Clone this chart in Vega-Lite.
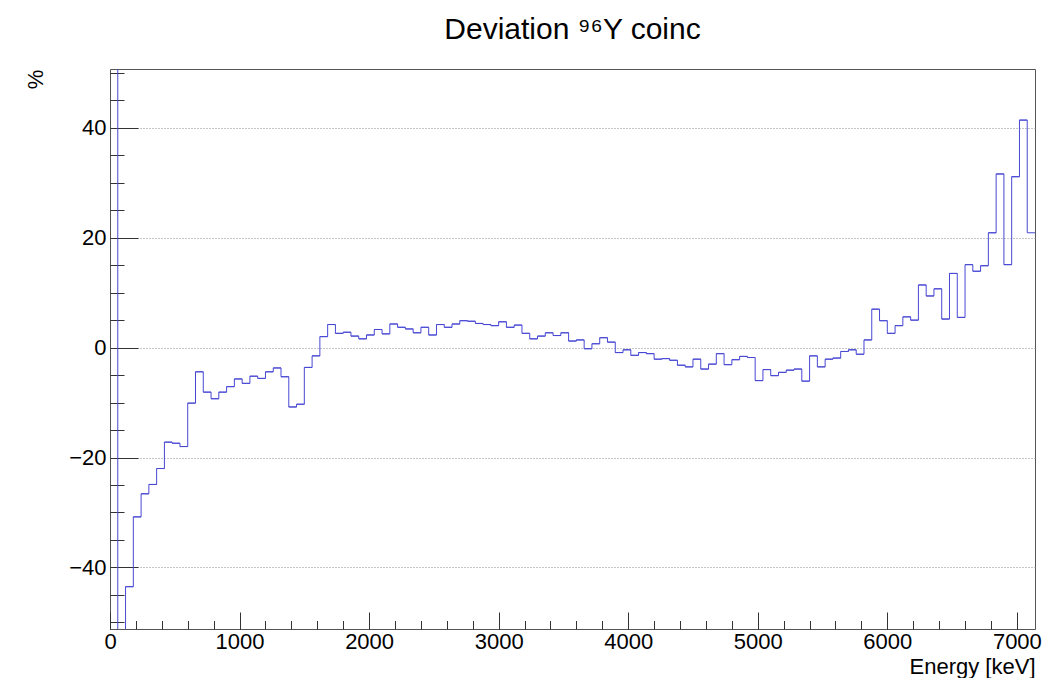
{
  "$schema": "https://vega.github.io/schema/vega-lite/v6.json",
  "width": 925,
  "height": 560,
  "autosize": "none",
  "padding": {"left": 110, "top": 69, "right": 26, "bottom": 49},
  "background": "white",
  "title": {
    "text": "Deviation ⁹⁶Y coinc",
    "font": "Liberation Sans",
    "fontSize": 30,
    "fontWeight": "normal",
    "color": "black",
    "anchor": "middle",
    "frame": "group",
    "baseline": "alphabetic",
    "offset": 0
  },
  "config": {
    "view": {"stroke": "#555555", "strokeWidth": 1},
    "axis": {
      "labelFont": "Liberation Sans",
      "titleFont": "Liberation Sans",
      "labelColor": "black",
      "titleColor": "black",
      "titleFontWeight": "normal",
      "tickColor": "#333333",
      "tickWidth": 1,
      "domain": false
    }
  },
  "resolve": {"axis": {"x": "independent", "y": "independent"}},
  "data": {
    "values": [
      {"lo": 0, "hi": 60, "dev": 60},
      {"lo": 60, "hi": 120, "dev": -60},
      {"lo": 120, "hi": 180, "dev": -43.5},
      {"lo": 180, "hi": 240, "dev": -30.8},
      {"lo": 240, "hi": 300, "dev": -26.6},
      {"lo": 300, "hi": 360, "dev": -24.9},
      {"lo": 360, "hi": 420, "dev": -22.0},
      {"lo": 420, "hi": 480, "dev": -17.2},
      {"lo": 480, "hi": 540, "dev": -17.4},
      {"lo": 540, "hi": 600, "dev": -18.0},
      {"lo": 600, "hi": 660, "dev": -10.1},
      {"lo": 660, "hi": 720, "dev": -4.4},
      {"lo": 720, "hi": 780, "dev": -8.1},
      {"lo": 780, "hi": 840, "dev": -9.3},
      {"lo": 840, "hi": 900, "dev": -8.1},
      {"lo": 900, "hi": 960, "dev": -7.1},
      {"lo": 960, "hi": 1020, "dev": -5.7},
      {"lo": 1020, "hi": 1080, "dev": -6.5},
      {"lo": 1080, "hi": 1140, "dev": -5.2},
      {"lo": 1140, "hi": 1200, "dev": -5.6},
      {"lo": 1200, "hi": 1260, "dev": -4.4},
      {"lo": 1260, "hi": 1320, "dev": -3.7},
      {"lo": 1320, "hi": 1380, "dev": -5.3},
      {"lo": 1380, "hi": 1440, "dev": -10.8},
      {"lo": 1440, "hi": 1500, "dev": -10.3},
      {"lo": 1500, "hi": 1560, "dev": -3.6},
      {"lo": 1560, "hi": 1620, "dev": -1.5},
      {"lo": 1620, "hi": 1680, "dev": 2.0},
      {"lo": 1680, "hi": 1740, "dev": 4.2},
      {"lo": 1740, "hi": 1800, "dev": 2.6},
      {"lo": 1800, "hi": 1860, "dev": 2.8},
      {"lo": 1860, "hi": 1920, "dev": 2.1},
      {"lo": 1920, "hi": 1980, "dev": 1.6},
      {"lo": 1980, "hi": 2040, "dev": 2.3},
      {"lo": 2040, "hi": 2100, "dev": 3.3},
      {"lo": 2100, "hi": 2160, "dev": 2.5},
      {"lo": 2160, "hi": 2220, "dev": 4.3},
      {"lo": 2220, "hi": 2280, "dev": 3.7},
      {"lo": 2280, "hi": 2340, "dev": 3.4},
      {"lo": 2340, "hi": 2400, "dev": 2.7},
      {"lo": 2400, "hi": 2460, "dev": 3.7},
      {"lo": 2460, "hi": 2520, "dev": 2.3},
      {"lo": 2520, "hi": 2580, "dev": 4.2},
      {"lo": 2580, "hi": 2640, "dev": 3.7},
      {"lo": 2640, "hi": 2700, "dev": 4.3},
      {"lo": 2700, "hi": 2760, "dev": 4.9},
      {"lo": 2760, "hi": 2820, "dev": 4.8},
      {"lo": 2820, "hi": 2880, "dev": 4.4},
      {"lo": 2880, "hi": 2940, "dev": 4.2},
      {"lo": 2940, "hi": 3000, "dev": 4.0},
      {"lo": 3000, "hi": 3060, "dev": 4.7},
      {"lo": 3060, "hi": 3120, "dev": 3.7},
      {"lo": 3120, "hi": 3180, "dev": 4.1},
      {"lo": 3180, "hi": 3240, "dev": 2.6},
      {"lo": 3240, "hi": 3300, "dev": 1.6},
      {"lo": 3300, "hi": 3360, "dev": 2.1},
      {"lo": 3360, "hi": 3420, "dev": 2.7},
      {"lo": 3420, "hi": 3480, "dev": 2.2},
      {"lo": 3480, "hi": 3540, "dev": 2.7},
      {"lo": 3540, "hi": 3600, "dev": 1.2},
      {"lo": 3600, "hi": 3660, "dev": 1.4},
      {"lo": 3660, "hi": 3720, "dev": -0.2},
      {"lo": 3720, "hi": 3780, "dev": 0.7},
      {"lo": 3780, "hi": 3840, "dev": 1.8},
      {"lo": 3840, "hi": 3900, "dev": 1.0},
      {"lo": 3900, "hi": 3960, "dev": -0.9},
      {"lo": 3960, "hi": 4020, "dev": -0.4},
      {"lo": 4020, "hi": 4080, "dev": -1.4},
      {"lo": 4080, "hi": 4140, "dev": -0.9},
      {"lo": 4140, "hi": 4200, "dev": -1.1},
      {"lo": 4200, "hi": 4260, "dev": -2.1},
      {"lo": 4260, "hi": 4320, "dev": -2.0},
      {"lo": 4320, "hi": 4380, "dev": -2.3},
      {"lo": 4380, "hi": 4440, "dev": -3.2},
      {"lo": 4440, "hi": 4500, "dev": -3.5},
      {"lo": 4500, "hi": 4560, "dev": -2.1},
      {"lo": 4560, "hi": 4620, "dev": -3.9},
      {"lo": 4620, "hi": 4680, "dev": -3.0},
      {"lo": 4680, "hi": 4740, "dev": -1.1},
      {"lo": 4740, "hi": 4800, "dev": -3.1},
      {"lo": 4800, "hi": 4860, "dev": -2.2},
      {"lo": 4860, "hi": 4920, "dev": -1.6},
      {"lo": 4920, "hi": 4980, "dev": -1.8},
      {"lo": 4980, "hi": 5040, "dev": -6.0},
      {"lo": 5040, "hi": 5100, "dev": -4.0},
      {"lo": 5100, "hi": 5160, "dev": -5.1},
      {"lo": 5160, "hi": 5220, "dev": -4.5},
      {"lo": 5220, "hi": 5280, "dev": -4.1},
      {"lo": 5280, "hi": 5340, "dev": -3.9},
      {"lo": 5340, "hi": 5400, "dev": -6.1},
      {"lo": 5400, "hi": 5460, "dev": -1.5},
      {"lo": 5460, "hi": 5520, "dev": -3.5},
      {"lo": 5520, "hi": 5580, "dev": -2.1},
      {"lo": 5580, "hi": 5640, "dev": -1.9},
      {"lo": 5640, "hi": 5700, "dev": -0.7},
      {"lo": 5700, "hi": 5760, "dev": -0.4},
      {"lo": 5760, "hi": 5820, "dev": -1.2},
      {"lo": 5820, "hi": 5880, "dev": 1.4},
      {"lo": 5880, "hi": 5940, "dev": 7.0},
      {"lo": 5940, "hi": 6000, "dev": 4.9},
      {"lo": 6000, "hi": 6060, "dev": 2.6},
      {"lo": 6060, "hi": 6120, "dev": 4.0},
      {"lo": 6120, "hi": 6180, "dev": 5.6},
      {"lo": 6180, "hi": 6240, "dev": 5.0},
      {"lo": 6240, "hi": 6300, "dev": 11.4},
      {"lo": 6300, "hi": 6360, "dev": 9.4},
      {"lo": 6360, "hi": 6420, "dev": 10.7},
      {"lo": 6420, "hi": 6480, "dev": 5.2},
      {"lo": 6480, "hi": 6540, "dev": 13.5},
      {"lo": 6540, "hi": 6600, "dev": 5.5},
      {"lo": 6600, "hi": 6660, "dev": 15.1},
      {"lo": 6660, "hi": 6720, "dev": 13.9},
      {"lo": 6720, "hi": 6780, "dev": 14.9},
      {"lo": 6780, "hi": 6840, "dev": 20.9},
      {"lo": 6840, "hi": 6900, "dev": 31.6},
      {"lo": 6900, "hi": 6960, "dev": 15.1},
      {"lo": 6960, "hi": 7020, "dev": 31.1},
      {"lo": 7020, "hi": 7080, "dev": 41.4},
      {"lo": 7080, "hi": 7140, "dev": 20.9}
    ]
  },
  "layer": [
    {
      "mark": {"type": "line", "interpolate": "step-after", "color": "#4848d4", "strokeWidth": 1, "clip": true},
      "encoding": {
        "x": {
          "field": "lo",
          "type": "quantitative",
          "scale": {"domain": [0, 7140], "nice": false, "zero": false},
          "axis": {
            "orient": "bottom",
            "values": [0, 1000, 2000, 3000, 4000, 5000, 6000, 7000],
            "format": "d",
            "tickSize": -17,
            "labelPadding": 19,
            "labelFontSize": 22,
            "labelFlush": false,
            "grid": false,
            "title": "Energy [keV]",
            "titleFontSize": 22,
            "titleX": 925,
            "titleY": 37,
            "titleAlign": "right",
            "titleBaseline": "middle"
          }
        },
        "y": {
          "field": "dev",
          "type": "quantitative",
          "scale": {"domain": [-51.2, 50.7], "nice": false, "zero": false},
          "axis": {
            "orient": "left",
            "values": [-40, -20, 0, 20, 40],
            "format": "d",
            "tickSize": -28,
            "labelPadding": 32,
            "labelFontSize": 22,
            "labelFlush": false,
            "grid": true,
            "gridColor": "#8c8c8c",
            "gridDash": [1, 2],
            "gridWidth": 1,
            "title": "%",
            "titleFontSize": 22,
            "titleAngle": 270,
            "titleX": -75,
            "titleY": 10,
            "titleAlign": "center",
            "titleBaseline": "middle"
          }
        }
      }
    },
    {
      "mark": {"type": "rule", "color": "#4848d4", "strokeWidth": 1, "clip": true},
      "encoding": {
        "x": {
          "field": "lo",
          "type": "quantitative",
          "axis": {
            "orient": "bottom",
            "values": [0, 200, 400, 600, 800, 1000, 1200, 1400, 1600, 1800, 2000, 2200, 2400, 2600, 2800, 3000, 3200, 3400, 3600, 3800, 4000, 4200, 4400, 4600, 4800, 5000, 5200, 5400, 5600, 5800, 6000, 6200, 6400, 6600, 6800, 7000],
            "tickSize": -8.5,
            "labels": false,
            "grid": false,
            "title": null
          }
        },
        "x2": {"field": "hi"},
        "y": {
          "field": "dev",
          "type": "quantitative",
          "axis": {
            "orient": "left",
            "values": [-50, -45, -40, -35, -30, -25, -20, -15, -10, -5, 0, 5, 10, 15, 20, 25, 30, 35, 40, 45, 50],
            "tickSize": -14,
            "labels": false,
            "grid": false,
            "title": null
          }
        }
      }
    }
  ]
}
